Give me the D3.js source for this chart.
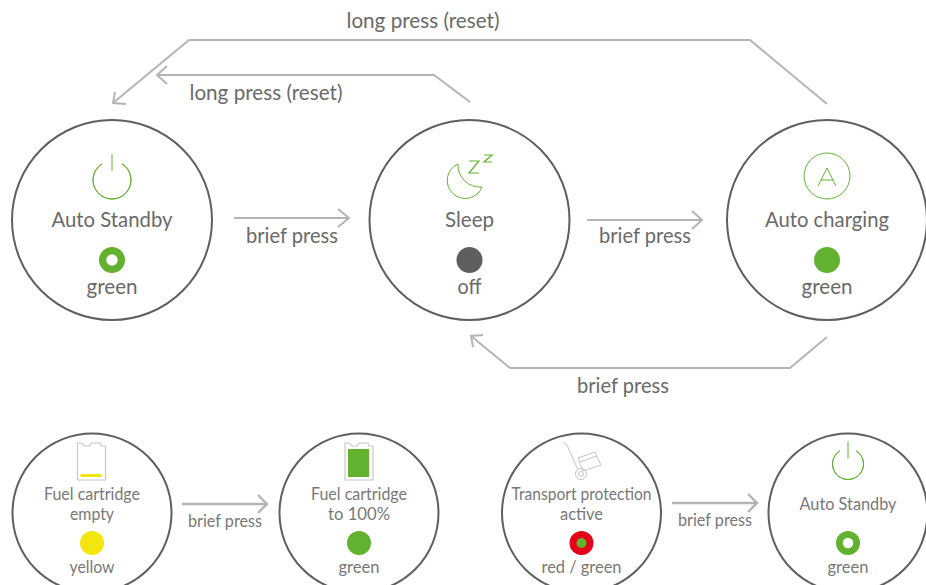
<!DOCTYPE html>
<html>
<head>
<meta charset="utf-8">
<title>Operating states</title>
<script src="https://cdn.jsdelivr.net/npm/d3@7"></script>
<style>
  html, body { margin: 0; padding: 0; background: #fff; }
  svg { display: block; }
  text { font-family: "Lato", sans-serif; font-weight: 400; fill: #6a6a6a; text-anchor: middle; }
  text.small { fill: #787878; }
</style>
</head>
<body>
<div id="chart"></div>
<script>
// what the diagram says
var big_states = ["Auto Standby", "Sleep", "Auto charging"];
var big_leds = ["green", "off", "green"];
var big_led_kinds = ["ring", "off", "solid"];
var big_icons = ["power", "moon", "auto"];

var small_states = [["Fuel cartridge", "empty"], ["Fuel cartridge", "to 100%"], ["Transport protection", "active"], ["Auto Standby"]];
var small_leds = ["yellow", "green", "red / green", "green"];
var small_led_kinds = ["yellow", "solid", "redgreen", "ring"];
var small_icons = ["cart_empty", "cart_full", "trolley", "power"];

var press_long = "long press (reset)";
var press_brief = "brief press";

var green = "#62b22f", yellow = "#f3e60e", red = "#e2001a", dark = "#5f5f5f", gray = "#b4b4b4";

// drawn width of each caption, the original typeface is narrow
var widths_big = {"Auto Standby": 121, "Sleep": 49, "Auto charging": 124, "green": 51, "off": 24,
  "long press (reset)": 153, "brief press": 92};
var widths_small = {"Fuel cartridge": 96, "empty": 44, "to 100%": 62, "Transport protection": 140, "active": 43,
  "Auto Standby": 97, "yellow": 45, "green": 41, "red / green": 80, "brief press": 74};

var width = 926, height = 585;

var svg = d3.select("#chart").append("svg")
  .attr("width", width).attr("height", height)
  .attr("viewBox", [0, 0, width, height]);

var x_big = d3.scalePoint().domain(big_states).range([112, 827]);
var x_small = d3.scaleOrdinal().domain(d3.range(4)).range([92, 359, 581.5, 848]);

var line = d3.line();

function arrow(points, head) {
  var g = svg.append("g").attr("fill", "none").attr("stroke", gray).attr("stroke-width", head.w);
  g.append("path").attr("d", line(points));
  g.append("path").attr("d", line([head.a, points[points.length - 1], head.b]));
}

// long press arrows
arrow([[827, 104], [750, 40], [189, 40], [113, 103]], {a: [115, 92], b: [126, 104], w: 2});
arrow([[470, 102], [434, 75], [157, 75]], {a: [167, 66], b: [167, 84], w: 2});
// brief press arrows
arrow([[234, 218], [349, 218]], {a: [338, 209], b: [338, 227], w: 2});
arrow([[587, 220], [702, 220]], {a: [692, 211], b: [692, 229], w: 2});
arrow([[827, 337], [790, 368], [510, 368], [471, 336]], {a: [483, 335], b: [473, 347], w: 2});
arrow([[182, 504], [267, 504]], {a: [258, 495], b: [258, 513], w: 2.4});
arrow([[672, 503], [757, 503]], {a: [748, 494], b: [748, 512], w: 2.4});

function label(t, x, y, size, widths) {
  return svg.append("text").attr("x", x).attr("y", y).attr("font-size", size)
    .classed("small", widths === widths_small)
    .attr("textLength", widths[t]).attr("lengthAdjust", "spacingAndGlyphs").text(t);
}

function led(kind, x, y, r) {
  var fill = {ring: green, solid: green, yellow: yellow, redgreen: red, off: dark}[kind];
  svg.append("circle").attr("cx", x).attr("cy", y).attr("r", r).attr("fill", fill);
  if (kind == "ring") svg.append("circle").attr("cx", x).attr("cy", y).attr("r", r * 0.44).attr("fill", "#fff");
  if (kind == "redgreen") svg.append("circle").attr("cx", x).attr("cy", y).attr("r", r * 0.42).attr("fill", green);
}

function power(x, y, r) {
  var g = svg.append("g").attr("transform", `translate(${x},${y})`)
    .attr("fill", "none").attr("stroke", green).attr("stroke-width", 1);
  g.append("path").attr("d", d3.arc()({innerRadius: r, outerRadius: r, startAngle: 0.55, endAngle: 2 * Math.PI - 0.55}));
  g.append("path").attr("d", line([[0, -r - 7], [0, -r + 10]]));
}

function icon(name, x) {
  if (name == "power") return;
  var g = svg.append("g").attr("fill", "none").attr("stroke", green).attr("stroke-width", 1);
  if (name == "moon") {
    g.append("path").attr("d", "M458 164 A18 18 0 1 0 482 187 A22 22 0 0 1 458 164 Z");
    g.append("path").attr("d", line([[469, 161], [479, 161], [469, 173], [479, 173]])).attr("stroke-width", 1.2);
    g.append("path").attr("d", line([[484, 155], [492, 155], [484, 162], [492, 162]])).attr("stroke-width", 1.2);
  }
  if (name == "auto") {
    g.append("circle").attr("cx", x).attr("cy", 176).attr("r", 23);
    g.append("path").attr("d", line([[x - 9, 186], [x, 168], [x + 9, 186]]));
    g.append("path").attr("d", line([[x - 6, 180], [x + 6, 180]]));
  }
}

function cartridge(x, level, colour) {
  var g = svg.append("g").attr("transform", `translate(${x},0)`).attr("fill", "none").attr("stroke", "#c8c8c8").attr("stroke-width", 1.2);
  g.append("path").attr("d", line([[-14, 480], [-14, 443], [-10, 443], [-7, 446], [-2, 446], [0, 443], [9, 443], [10, 446], [14, 446], [14, 480], [-14, 480]]));
  g.append("rect").attr("x", -11).attr("width", 21).attr("y", level).attr("height", 477 - level)
    .attr("fill", colour).attr("stroke", "none");
}

function trolley() {
  var g = svg.append("g").attr("fill", "none").attr("stroke", "#c4c4c4").attr("stroke-width", 1);
  g.append("path").attr("d", line([[563, 442], [567, 445], [578, 470]]));
  g.append("circle").attr("cx", 581).attr("cy", 474).attr("r", 5.5);
  g.append("circle").attr("cx", 581).attr("cy", 474).attr("r", 2.5);
  g.append("path").attr("d", line([[578, 458], [595, 452], [601, 465], [583, 471], [578, 458]]));
  g.append("path").attr("d", line([[580, 462], [597, 456]]));
}

// top row
big_states.forEach(function(s, i) {
  var x = x_big(s);
  svg.append("circle").attr("cx", x).attr("cy", 220).attr("r", 100)
    .attr("fill", "none").attr("stroke", dark).attr("stroke-width", 2);
  if (big_icons[i] == "power") power(x, 180, 19);
  else icon(big_icons[i], x);
  label(s, x, 227, 22, widths_big);
  led(big_led_kinds[i], x, 260, 13);
  label(big_leds[i], x, 294, 22, widths_big);
});

// bottom row
small_states.forEach(function(s, i) {
  var x = x_small(i);
  svg.append("circle").attr("cx", x).attr("cy", 513).attr("r", 79.5)
    .attr("fill", "none").attr("stroke", dark).attr("stroke-width", 2);
  var ic = small_icons[i];
  if (ic == "power") power(x, 464, 15.5);
  if (ic == "cart_empty") cartridge(x - 0.5, 474, yellow);
  if (ic == "cart_full") cartridge(x, 449, green);
  if (ic == "trolley") trolley();
  if (s.length == 2) {
    label(s[0], x, 500, 17.5, widths_small);
    label(s[1], x, 520, 17.5, widths_small);
  } else {
    label(s[0], x, 510, 17.5, widths_small);
  }
  led(small_led_kinds[i], x, 543, 12);
  label(small_leds[i], x, 573, 17.5, widths_small);
});

// arrow captions
label(press_long, 423, 28, 22, widths_big);
label(press_long, 266, 100, 22, widths_big);
label(press_brief, 292, 243, 22, widths_big);
label(press_brief, 645, 243, 22, widths_big);
label(press_brief, 623, 393, 22, widths_big);
label(press_brief, 225, 527, 17.5, widths_small);
label(press_brief, 715, 526, 17.5, widths_small);
</script>
</body>
</html>
